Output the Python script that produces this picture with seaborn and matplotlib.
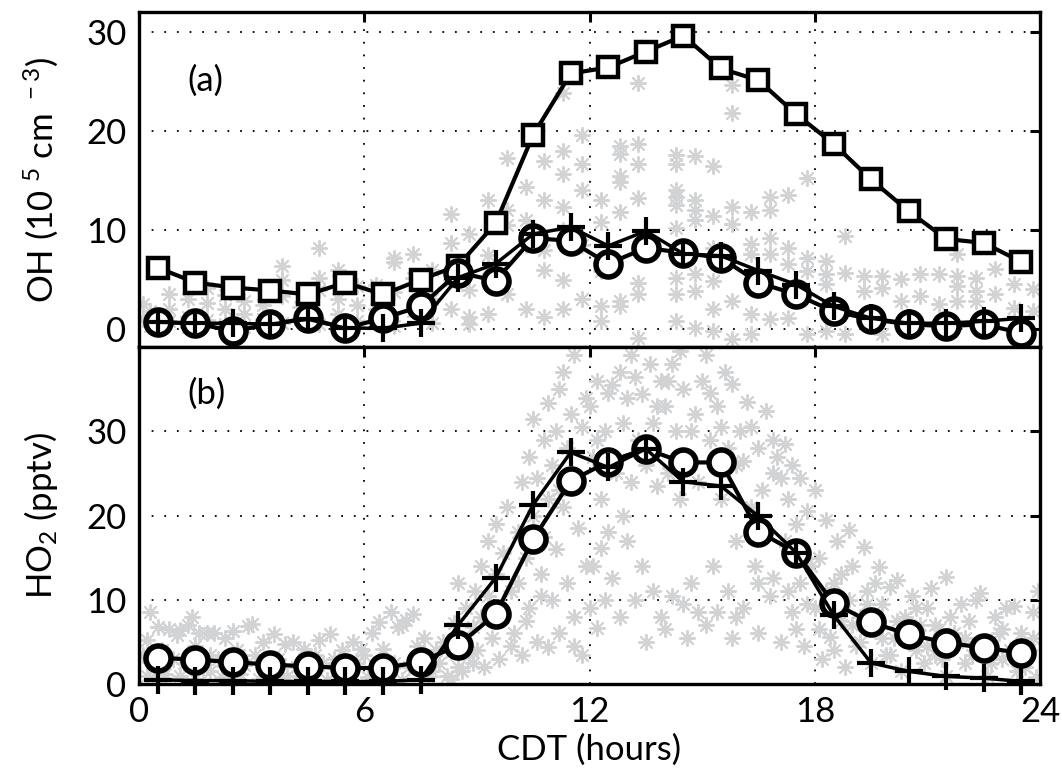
import matplotlib
matplotlib.use('Agg')
import matplotlib.pyplot as plt
import seaborn as sns
import pandas as pd

# hourly means (bin centres, CDT)
hours = [0.5, 1.5, 2.5, 3.5, 4.5, 5.5, 6.5, 7.5, 8.5, 9.5, 10.5, 11.5,
         12.5, 13.5, 14.5, 15.5, 16.5, 17.5, 18.5, 19.5, 20.5, 21.5, 22.5, 23.5]

# (a) OH, 10^5 cm-3
oh_square = [6.2, 4.7, 4.2, 3.9, 3.5, 4.7, 3.5, 5.0, 6.4, 10.7, 19.6, 25.8,
             26.4, 28.0, 29.6, 26.3, 25.1, 21.7, 18.7, 15.1, 11.9, 9.1, 8.7, 6.8]
oh_circle = [0.7, 0.6, -0.2, 0.5, 1.1, 0.1, 1.1, 2.3, 5.7, 4.9, 9.2, 8.9,
             6.6, 8.2, 7.7, 7.2, 4.7, 3.5, 1.8, 1.0, 0.5, 0.3, 0.5, -0.4]
oh_plus = [0.7, 0.6, 0.6, 0.5, 1.0, 0.1, 0.1, 0.6, 5.2, 6.6, 9.6, 10.3,
           8.4, 9.9, 7.6, 7.4, 5.9, 4.5, 2.3, 1.1, 0.6, 0.6, 0.8, 1.1]

# (b) HO2, pptv
ho2_circle = [3.1, 2.9, 2.6, 2.3, 2.1, 1.9, 1.9, 2.6, 4.6, 8.3, 17.2, 24.1,
              26.4, 27.9, 26.3, 26.3, 18.1, 15.6, 9.6, 7.3, 5.9, 4.9, 4.3, 3.7]
ho2_plus = [0.5, 0.4, 0.4, 0.3, 0.3, 0.3, 0.3, 0.5, 7.0, 12.6, 21.3, 27.5,
            25.7, 27.9, 24.0, 23.5, 19.9, 15.6, 8.2, 2.5, 1.5, 0.9, 0.7, 0.3]

oh_obs = [
    (0.1, 2.5), (0.1, 1.0), (0.3, 0.3), (0.3, 1.8), (0.8, 3.5), (0.8, 0.8), (0.8, 2.0),
    (1.3, 3.0), (1.3, 1.2), (1.3, 0.2), (1.8, 2.6), (1.8, 4.2), (1.8, 0.9),
    (2.3, 2.0), (2.3, 3.4), (2.3, 0.5), (2.8, 1.5), (2.8, 2.8), (2.8, 0.2),
    (3.3, 1.0), (3.3, 2.4), (3.8, 5.0), (3.8, 6.4), (3.8, 3.3), (3.8, 0.6),
    (4.3, 2.2), (4.3, 1.0), (4.8, 4.0), (4.8, 8.2), (4.8, 5.2), (4.8, 0.5),
    (5.3, 3.0), (5.3, 1.5), (5.3, 6.0), (5.8, 2.4), (5.8, 0.8), (5.8, 4.4),
    (6.3, 2.0), (6.3, 4.5), (6.3, 1.0), (6.8, 6.8), (6.8, 3.8), (6.8, 7.2), (6.8, 0.3),
    (7.3, 5.2), (7.3, 1.8), (7.3, 7.6), (7.8, 3.0), (7.8, 6.0), (7.8, 0.6),
    (8.3, 2.0), (8.3, 11.6), (8.3, 8.7), (8.3, 5.0), (8.8, 1.2), (8.8, 9.6), (8.8, 4.0), (8.8, 0.5),
    (9.3, 7.5), (9.3, 13.0), (9.3, 6.2), (9.3, 1.5), (9.8, 10.5), (9.8, 17.3), (9.8, 12.0), (9.8, 3.5),
    (10.3, 8.5), (10.3, 14.3), (10.3, 11.0), (10.3, 2.0), (10.8, 6.0), (10.8, 17.0),
    (10.8, 13.0), (10.8, 8.0), (10.8, 1.2),
    (11.3, 10.0), (11.3, 23.8), (11.3, 18.0), (11.3, 15.7), (11.3, 12.3), (11.3, 5.0),
    (11.3, 2.0), (11.8, 19.6), (11.8, 16.7), (11.8, 14.0), (11.8, 8.5), (11.8, 3.0),
    (12.3, 13.0), (12.3, 10.8), (12.3, 5.9), (12.3, 2.3), (12.3, 0.8),
    (12.8, 18.5), (12.8, 17.7), (12.8, 15.5), (12.8, 14.8), (12.8, 11.8), (12.8, 2.8), (12.8, 2.3),
    (13.3, 24.8), (13.3, 18.7), (13.3, 16.7), (13.3, 13.2), (13.3, 4.7), (13.3, 3.5), (13.3, -0.9),
    (14.3, 17.6), (14.3, 16.7), (14.3, 14.0), (14.3, 13.3), (14.3, 12.5), (14.3, 10.2),
    (14.3, 5.2), (14.3, 3.5), (14.3, 0.8),
    (14.8, 17.5), (14.8, 13.0), (14.8, 12.0), (14.8, 11.0), (14.8, 5.6), (14.8, 3.9), (14.8, 0.1),
    (15.3, 16.5), (15.3, 11.4), (15.3, 8.2), (15.3, 4.9), (15.3, 2.0), (15.3, -0.2),
    (15.8, 24.6), (15.8, 21.8), (15.8, 12.3), (15.8, 10.6), (15.8, 2.8), (15.8, -1.0),
    (16.3, 11.8), (16.3, 8.6), (16.3, 7.6), (16.3, 1.5), (16.3, -0.5),
    (16.8, 13.3), (16.8, 12.0), (16.8, 9.2), (16.8, 7.6), (16.8, 1.0),
    (17.3, 13.5), (17.3, 8.2), (17.3, 6.6), (17.3, 4.2), (17.3, 1.1),
    (17.8, 15.3), (17.8, 7.2), (17.8, 5.9), (17.8, -0.5),
    (18.3, 6.9), (18.3, 5.6), (18.3, 4.6), (18.3, -0.2),
    (18.8, 9.4), (18.8, 5.7), (18.8, -0.5),
    (19.3, 5.4), (19.3, 3.9), (19.8, 5.4), (19.8, 4.2), (19.8, -0.5),
    (20.3, 5.1), (20.3, 2.8), (20.8, 5.6), (20.8, 3.3),
    (21.3, 5.6), (21.3, 2.5), (21.8, 7.6), (21.8, 5.4), (21.8, 4.4), (21.8, 2.8),
    (22.3, 5.2), (22.3, 3.9), (22.3, 2.8), (22.8, 6.1), (22.8, 3.5),
    (23.3, 4.6), (23.3, 2.1), (23.8, 4.1), (23.8, 1.8),
]

ho2_obs = [
    (0.1, 3.5), (0.2, 5.2), (0.3, 8.6), (0.4, 2.0), (0.5, 6.8), (0.6, 4.0), (0.7, 1.2), (0.8, 6.5), (0.9, 3.0),
    (0.2, 1.0), (0.5, 0.5), (0.7, 2.8),
    (1.0, 5.8), (1.1, 6.4), (1.2, 2.5), (1.3, 7.0), (1.4, 8.0), (1.5, 4.5), (1.6, 6.1), (1.7, 1.8),
    (1.8, 6.0), (1.9, 3.5), (1.1, 1.0), (1.5, 0.6), (1.9, 1.5),
    (2.0, 6.0), (2.1, 3.0), (2.3, 5.5), (2.4, 1.5), (2.5, 6.3), (2.6, 4.0), (2.8, 2.2), (2.9, 6.9),
    (2.2, 0.8), (2.7, 1.2),
    (3.0, 7.1), (3.1, 3.5), (3.3, 5.0), (3.4, 1.5), (3.6, 5.9), (3.7, 3.0), (3.9, 4.8), (3.95, 1.0),
    (3.2, 0.6), (3.5, 2.5), (3.8, 0.4),
    (4.1, 5.0), (4.2, 2.0), (4.4, 4.2), (4.5, 1.0), (4.7, 3.5), (4.8, 5.2), (4.9, 2.5),
    (4.3, 0.8), (4.6, 2.8),
    (5.1, 5.9), (5.2, 3.0), (5.4, 4.0), (5.5, 1.2), (5.7, 5.0), (5.8, 2.5), (5.9, 4.2),
    (5.0, 0.5), (5.3, 1.8), (5.6, 0.5),
    (6.0, 3.5), (6.2, 6.0), (6.3, 1.5), (6.4, 7.4), (6.5, 4.2), (6.7, 8.6), (6.8, 2.5), (6.9, 6.8),
    (6.1, 0.8), (6.6, 1.2),
    (7.0, 7.0), (7.1, 7.6), (7.2, 2.0), (7.3, 8.3), (7.4, 4.5), (7.5, 3.0), (7.6, 5.5), (7.8, 1.5), (7.9, 4.0),
    (7.0, 0.5), (7.7, 0.8),
    (8.0, 2.5), (8.1, 5.0), (8.2, 1.0), (8.3, 3.8), (8.4, 7.2), (8.5, 12.0), (8.5, 2.0), (8.6, 5.5),
    (8.7, 9.0), (8.8, 3.5), (8.9, 6.8), (8.95, 11.0), (8.3, 0.6), (8.6, 1.5), (8.9, 2.5),
    (9.0, 4.0), (9.1, 14.0), (9.1, 8.0), (9.2, 2.0), (9.3, 17.0), (9.3, 10.5), (9.4, 5.5), (9.5, 19.0),
    (9.5, 13.0), (9.6, 3.0), (9.7, 15.5), (9.7, 8.0), (9.8, 21.0), (9.9, 11.0), (9.9, 4.5),
    (10.0, 6.0), (10.1, 18.0), (10.1, 12.0), (10.2, 24.0), (10.2, 3.5), (10.3, 15.0), (10.4, 27.0),
    (10.4, 9.0), (10.5, 31.4), (10.5, 20.0), (10.6, 5.0), (10.6, 24.5), (10.7, 13.0), (10.8, 29.0),
    (10.8, 17.5), (10.9, 33.4), (10.9, 4.4), (10.9, 22.0), (10.3, 7.5), (10.7, 10.5),
    (11.0, 26.0), (11.0, 10.0), (11.1, 30.0), (11.1, 16.0), (11.2, 35.0), (11.2, 6.0), (11.3, 37.0),
    (11.3, 21.0), (11.4, 12.0), (11.5, 32.0), (11.5, 25.0), (11.6, 39.0), (11.6, 8.0), (11.7, 18.5),
    (11.8, 30.5), (11.8, 3.5), (11.9, 14.0), (11.9, 34.0), (11.2, 23.0), (11.4, 28.0), (11.6, 4.5),
    (12.0, 33.0), (12.0, 9.0), (12.1, 27.0), (12.1, 14.0), (12.2, 36.0), (12.2, 6.7), (12.3, 22.0),
    (12.3, 16.2), (12.4, 30.0), (12.5, 18.0), (12.5, 34.5), (12.6, 12.6), (12.7, 25.0), (12.8, 7.9),
    (12.8, 37.0), (12.9, 20.0), (12.9, 31.0), (12.2, 29.0), (12.6, 35.5), (12.4, 10.0),
    (13.0, 17.0), (13.0, 34.0), (13.1, 24.0), (13.2, 36.4), (13.2, 10.0), (13.3, 29.0), (13.4, 34.4),
    (13.5, 5.0), (13.5, 26.0), (13.6, 38.0), (13.7, 11.0), (13.7, 31.0), (13.8, 23.5), (13.9, 36.0),
    (13.9, 8.0), (13.1, 39.0), (13.8, 33.0), (13.4, 14.0),
    (14.0, 33.0), (14.0, 6.5), (14.1, 25.0), (14.2, 38.0), (14.2, 10.5), (14.3, 30.0), (14.4, 22.0),
    (14.5, 35.0), (14.6, 5.5), (14.6, 27.0), (14.7, 12.0), (14.8, 32.0), (14.9, 24.0), (14.9, 8.5),
    (14.1, 36.0), (14.4, 39.5), (14.7, 30.0), (14.5, 9.5),
    (15.0, 36.0), (15.1, 39.0), (15.1, 7.0), (15.2, 29.0), (15.3, 14.0), (15.4, 8.6), (15.4, 33.0),
    (15.5, 22.0), (15.6, 37.0), (15.7, 11.0), (15.8, 35.6), (15.8, 5.5), (15.9, 26.0), (15.9, 17.0),
    (15.2, 34.5), (15.5, 30.5), (15.7, 28.0), (15.9, 8.0),
    (16.0, 30.0), (16.1, 9.0), (16.2, 33.5), (16.3, 21.0), (16.4, 14.0), (16.5, 28.0), (16.5, 6.0),
    (16.7, 32.4), (16.7, 18.0), (16.8, 10.5), (16.9, 12.6), (16.9, 25.0), (16.1, 26.5), (16.3, 30.5),
    (16.6, 23.0), (16.9, 29.0), (16.5, 12.0),
    (17.0, 27.0), (17.1, 5.0), (17.2, 28.5), (17.2, 17.0), (17.3, 22.0), (17.4, 8.6), (17.5, 19.0),
    (17.6, 24.5), (17.6, 12.0), (17.7, 4.5), (17.8, 20.5), (17.9, 14.0), (17.1, 24.5), (17.4, 26.0),
    (17.3, 11.0), (17.5, 6.5), (17.8, 9.5),
    (18.0, 23.0), (18.0, 9.0), (18.1, 15.0), (18.2, 3.0), (18.3, 19.5), (18.4, 5.6), (18.5, 12.0),
    (18.6, 17.0), (18.7, 7.5), (18.8, 2.0), (18.9, 18.3), (18.9, 10.0), (18.1, 6.5), (18.3, 11.0),
    (18.5, 4.0), (18.7, 13.0),
    (19.0, 14.0), (19.1, 4.5), (19.2, 8.0), (19.3, 16.3), (19.4, 11.0), (19.5, 2.5), (19.6, 6.5),
    (19.7, 13.9), (19.8, 9.5), (19.9, 3.5), (19.0, 7.0), (19.2, 5.0), (19.4, 9.5), (19.6, 12.0),
    (19.8, 5.5),
    (20.0, 11.5), (20.1, 5.5), (20.2, 12.4), (20.3, 1.5), (20.4, 8.0), (20.6, 10.5), (20.7, 4.0),
    (20.8, 7.0), (20.9, 2.5), (20.0, 3.5), (20.2, 7.5), (20.5, 5.0), (20.7, 9.0),
    (21.0, 9.0), (21.1, 11.4), (21.2, 3.5), (21.3, 6.5), (21.5, 12.7), (21.5, 1.0), (21.6, 8.0),
    (21.8, 5.0), (21.9, 9.5), (21.0, 4.5), (21.2, 7.0), (21.4, 3.0), (21.7, 6.0),
    (22.0, 2.5), (22.1, 7.5), (22.3, 10.0), (22.4, 10.8), (22.5, 4.5), (22.6, 1.0), (22.8, 8.0),
    (22.9, 6.0), (22.0, 5.5), (22.2, 3.5), (22.7, 2.5),
    (23.0, 3.0), (23.1, 9.0), (23.3, 9.2), (23.4, 1.5), (23.5, 6.0), (23.7, 4.0), (23.8, 8.6),
    (23.9, 0.8), (23.95, 11.0), (23.0, 6.5), (23.2, 4.0), (23.6, 2.0), (23.8, 5.5),
]

oh_df = pd.DataFrame(oh_obs, columns=['time', 'value'])
ho2_df = pd.DataFrame(ho2_obs, columns=['time', 'value'])

sns.set_style('white')
plt.rcParams['font.family'] = ['Lato', 'DejaVu Sans']
plt.rcParams['mathtext.default'] = 'regular'
plt.rcParams['text.color'] = 'black'
plt.rcParams['axes.labelcolor'] = 'black'

FS = 25
GREY = '#d1d3d4'
star = (8, 2, 0)

fig = plt.figure(figsize=(10.62, 7.72), dpi=100)
ax1 = fig.add_axes([0.1309, 0.5505, 0.8484, 0.4340])
ax2 = fig.add_axes([0.1309, 0.1140, 0.8484, 0.4365])


def style_axis(ax, ylim, yticks):
    ax.set_xlim(0, 24)
    ax.set_ylim(*ylim)
    ax.set_xticks([0, 6, 12, 18, 24])
    ax.set_yticks(yticks)
    ax.set_axisbelow(True)
    ax.grid(True, color='black', linestyle=(0, (1, 6)), linewidth=1.3)
    ax.tick_params(direction='in', length=7, width=2.2, top=True, right=True,
                   labelsize=FS, colors='black', labelcolor='black', pad=9)
    for sp in ax.spines.values():
        sp.set_linewidth(2.4)
        sp.set_color('black')
        sp.set_zorder(10)


# ---- panel (a): OH ----
sns.scatterplot(data=oh_df, x='time', y='value', marker=star, s=120, color=GREY,
                linewidth=1.4, ax=ax1, zorder=1, legend=False)
sns.lineplot(x=hours, y=oh_square, ax=ax1, color='black', lw=3, marker='s',
             markersize=14, markerfacecolor='white', markeredgecolor='black',
             markeredgewidth=3.2, zorder=3, clip_on=False)
sns.lineplot(x=hours, y=oh_circle, ax=ax1, color='black', lw=3, marker='o',
             markersize=18, markerfacecolor='white', markeredgecolor='black',
             markeredgewidth=4, zorder=4, clip_on=False)
sns.lineplot(x=hours, y=oh_plus, ax=ax1, color='black', lw=2.5, marker='+',
             markersize=20, markeredgecolor='black', markeredgewidth=3,
             zorder=5, clip_on=False)
style_axis(ax1, (-1.8, 32), [0, 10, 20, 30])
ax1.tick_params(labelbottom=False)
ax1.set_xlabel('')
ax1.set_ylabel('OH (10$^{\\ 5}$ cm$^{\\ -3}$)', fontsize=FS)
ax1.yaxis.set_label_coords(-0.088, 0.5)
ax1.text(1.3, 25.1, '(a)', fontsize=FS, ha='left', va='center')

# ---- panel (b): HO2 ----
sns.scatterplot(data=ho2_df, x='time', y='value', marker=star, s=120, color=GREY,
                linewidth=1.4, ax=ax2, zorder=1, legend=False)
sns.lineplot(x=hours, y=ho2_circle, ax=ax2, color='black', lw=3, marker='o',
             markersize=18, markerfacecolor='white', markeredgecolor='black',
             markeredgewidth=4, zorder=4, clip_on=False)
sns.lineplot(x=hours, y=ho2_plus, ax=ax2, color='black', lw=2.5, marker='+',
             markersize=20, markeredgecolor='black', markeredgewidth=3,
             zorder=5, clip_on=False)
style_axis(ax2, (0, 40), [0, 10, 20, 30])
ax2.set_xlabel('CDT (hours)', fontsize=FS, labelpad=4)
ax2.set_ylabel('HO$_{2}$ (pptv)', fontsize=FS)
ax2.yaxis.set_label_coords(-0.088, 0.5)
ax2.text(1.3, 34.4, '(b)', fontsize=FS, ha='left', va='center')

fig.savefig('out.png', dpi=100)
plt.close(fig)
